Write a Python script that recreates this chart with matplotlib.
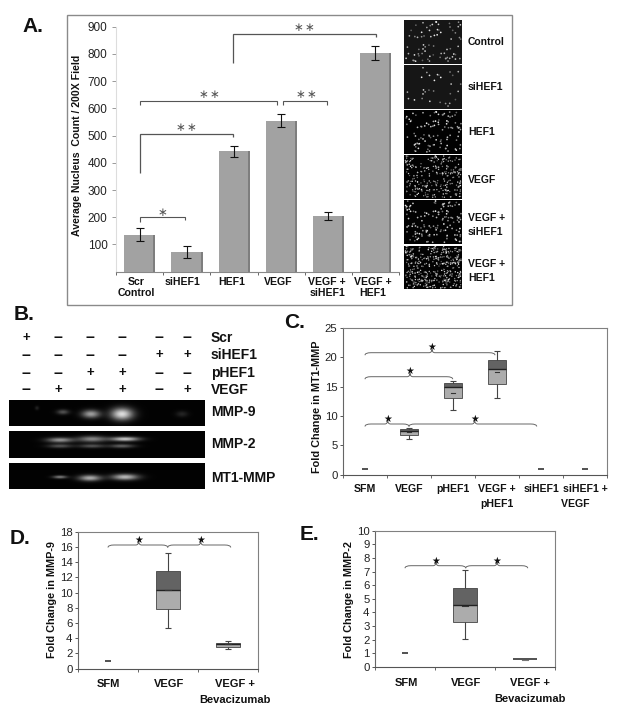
import numpy as np
import matplotlib
matplotlib.use("Agg")
import matplotlib.pyplot as plt
from matplotlib.path import Path
from matplotlib.patches import PathPatch, Rectangle
from matplotlib.transforms import ScaledTranslation

plt.rcParams['font.family'] = ['Liberation Sans', 'DejaVu Sans']

# ---------- data ----------
a_labels = ['Scr\nControl', 'siHEF1', 'HEF1', 'VEGF', 'VEGF +\nsiHEF1', 'VEGF +\nHEF1']
a_values = [135, 72, 443, 555, 205, 803]
a_errors = [24, 22, 20, 25, 16, 25]
a_ticks = [100, 200, 300, 400, 500, 600, 700, 800, 900]

micro_spots = [70, 30, 100, 260, 130, 380]

b_rows = ['Scr', 'siHEF1', 'pHEF1', 'VEGF']
b_signs = ['+-----', '----++', '--++--', '-+-+-+']
b_blots = ['MMP-9', 'MMP-2', 'MT1-MMP']

c_labels = ['SFM', 'VEGF', 'pHEF1', 'VEGF +\npHEF1', 'siHEF1', 'siHEF1 +\nVEGF       ']
c_low = [1, 6, 11, 13, 1, 1]
c_q1 = [1, 6.7, 13, 15.5, 1, 1]
c_med = [1, 7.5, 15, 18, 1, 1]
c_q3 = [1, 7.8, 15.6, 19.6, 1, 1]
c_high = [1, 8, 16, 21, 1, 1]
c_mean = [1, 7.3, 14, 17.5, 1, 1]

d_labels = ['SFM', 'VEGF', 'VEGF +\nBevacizumab']
d_low = [1, 5.4, 2.6]
d_q1 = [1, 7.8, 2.9]
d_med = [1, 10.3, 3.2]
d_q3 = [1, 12.8, 3.4]
d_high = [1, 15.2, 3.7]
d_mean = [1, 10.3, 3.2]

e_labels = ['SFM', 'VEGF', 'VEGF +\nBevacizumab']
e_low = [1, 2.05, 0.6]
e_q1 = [1, 3.3, 0.6]
e_med = [1, 4.55, 0.62]
e_q3 = [1, 5.8, 0.62]
e_high = [1, 7.1, 0.62]
e_mean = [1, 4.5, 0.55]

# ---------- helpers ----------
W, H = 618, 718
fig = plt.figure(figsize=(W / 100, H / 100), dpi=100, facecolor='white')


def axpx(x0, y0, x1, y1):
    return fig.add_axes([x0 / W, 1 - y1 / H, (x1 - x0) / W, (y1 - y0) / H])


ov = fig.add_axes([0, 0, 1, 1], zorder=10)
ov.axis('off')


def shift_labels(ax, offsets):
    for lab, dx in zip(ax.get_xticklabels(), offsets):
        lab.set_transform(lab.get_transform() + ScaledTranslation(dx / 100, 0, fig.dpi_scale_trans))


def cat_axis(ax, labels, pad_px, spacing, size=7.6):
    n = len(labels)
    ax.set_xlim(0, n)
    ax.set_xticks(np.arange(n) + 0.5, labels, fontweight='bold', fontsize=size, linespacing=spacing)
    ax.set_xticks(np.arange(n + 1), minor=True)
    ax.tick_params(axis='x', which='major', length=0, pad=pad_px * 0.72, colors='#111111')
    ax.tick_params(axis='x', which='minor', length=2.5, width=0.7, color='#666666')


def boxes(ax, low, q1, med, q3, high, mean, half, flat_half):
    x = np.arange(len(low)) + 0.5
    ymax = ax.get_ylim()[1]
    for xi, lo, a, m, b, hi, mn in zip(x, low, q1, med, q3, high, mean):
        if hi == lo:
            ax.plot([xi - flat_half, xi + flat_half], [m, m], color='#333333', lw=1.2, solid_capstyle='butt', zorder=3)
            continue
        if b - a < 0.005 * ymax:
            ax.plot([xi - half, xi + half], [m, m], color='#333333', lw=1.2, solid_capstyle='butt', zorder=3)
            ax.plot([xi - 0.05, xi + 0.05], [mn, mn], color='#777777', lw=0.8, zorder=3)
            continue
        ax.errorbar([xi], [m], yerr=[[m - lo], [hi - m]], color='#444444', lw=0.8, capsize=2.5, capthick=0.8, zorder=2)
        ax.bar([xi], [m - a], bottom=[a], width=2 * half, color='#acacac', edgecolor='#444444', lw=0.6, zorder=3)
        ax.bar([xi], [b - m], bottom=[m], width=2 * half, color='#636363', edgecolor='#444444', lw=0.6, zorder=3)
        ax.plot([xi - half, xi + half], [m, m], color='#222222', lw=1.0, solid_capstyle='butt', zorder=4)
        ax.plot([xi - 0.05, xi + 0.05], [mn, mn], color='#333333', lw=0.8, zorder=4)


def style_box_axes(ax):
    ax.spines['top'].set_color('#808080')
    ax.spines['right'].set_color('#808080')
    ax.spines['left'].set_color('#666666')
    ax.spines['bottom'].set_color('#555555')
    for s in ax.spines.values():
        s.set_linewidth(0.8)
    ax.tick_params(axis='y', length=2.5, width=0.7, pad=1.5, labelsize=8.2, color='#555555', labelcolor='#222222')


def bracket(points, color='#555555', lw=0.8):
    xs, ys = zip(*points)
    ov.plot(xs, ys, color=color, lw=lw, solid_joinstyle='miter', solid_capstyle='butt')


def brace(x0, x1, xm, y):
    codes = [Path.MOVETO, Path.CURVE3, Path.CURVE3, Path.LINETO, Path.CURVE3, Path.CURVE3,
             Path.CURVE3, Path.CURVE3, Path.LINETO, Path.CURVE3, Path.CURVE3]
    verts = [(x0, y + 2.5), (x0, y), (x0 + 6, y), (xm - 3, y), (xm, y), (xm, y - 3.5),
             (xm, y), (xm + 3, y), (x1 - 6, y), (x1, y), (x1, y + 2.5)]
    ov.add_patch(PathPatch(Path(verts, codes), fc='none', ec='#666666', lw=0.7))


def star(x, y):
    ov.text(x, y, '\u2605', ha='center', va='center', fontsize=7, color='#111111', family='DejaVu Sans')


def gstar(x, y, s='\u2217\u200a\u2217'):
    ov.text(x, y, s, ha='center', va='center', fontsize=8.5, color='#555555', family='DejaVu Sans')


def t(x, y, s, size=7.5, ha='left', weight='bold', **kw):
    ov.text(x, y, s, fontsize=size, ha=ha, va='center', fontweight=weight, color='#111111', **kw)


# ---------- panel frame A ----------
ov.add_patch(Rectangle((66.5, 14.5), 445.5, 290.5, fc='none', ec='#8a8a8a', lw=1.0))

# ---------- panel A ----------
axA = axpx(116, 26.7, 399, 271.7)
axA.patch.set_alpha(0)
axA.set_ylim(0, 900)
x = np.arange(6) + 0.5
axA.bar(x + 0.025, a_values, width=0.62, color='#7e7e7e', zorder=2)
axA.bar(x - 0.015, a_values, width=0.62, color='#a2a2a2', zorder=3)
axA.errorbar(x, a_values, yerr=a_errors, fmt='none', ecolor='#111111', elinewidth=0.8, capsize=3, capthick=0.8, zorder=4)
axA.set_yticks(a_ticks)
cat_axis(axA, a_labels, 5, 1.2, size=7.6)
shift_labels(axA, [-3, -4, -2, -3, -1, -3])
axA.tick_params(axis='y', length=3, width=0.7, color='#999999', pad=3, labelsize=8.5, labelcolor='#222222')
for s in ['top', 'right']:
    axA.spines[s].set_visible(False)
axA.spines['left'].set_color('#dddddd')
axA.spines['bottom'].set_color('#888888')
axA.spines['bottom'].set_linewidth(0.8)
t(76.5, 145, 'Average Nucleus  Count / 200X Field', size=7.6, ha='center', rotation=90)

bracket([(139.7, 222), (139.7, 217), (185, 217), (185, 220)])
ov.text(162, 212, '\u2217', ha='center', va='center', fontsize=8.5, color='#555555', family='DejaVu Sans')
bracket([(139.7, 172.7), (139.7, 133.5), (233, 133.5), (233, 137)], lw=0.9)
gstar(186, 127.5)
bracket([(139.7, 105), (139.7, 101), (277, 101), (277, 105)])
gstar(209, 95)
bracket([(283, 105), (283, 101), (327, 101), (327, 105)])
gstar(306, 95)
bracket([(233, 63), (233, 33.7), (375.7, 33.7), (375.7, 37)], lw=0.9)
gstar(304, 27.5)

t(22, 27, 'A.', size=15)

# micrographs (decorative speckle texture standing in for the photographs)
tops = [20, 65, 110, 155, 200, 245.5]
for i, (top, n) in enumerate(zip(tops, micro_spots)):
    bg = '#161616' if i < 2 else '#020202'
    ov.add_patch(Rectangle((404, top), 58, 43.7, fc=bg, ec='none', zorder=1))
    idx = np.arange(1, n + 1) + 17 * i
    px = 405 + 56 * ((idx ** 2 * 0.7548777) % 1)
    py = top + 1 + 41.5 * ((idx ** 2 * 0.5698403 + idx * 0.31) % 1)
    shade = 0.35 + 0.6 * ((idx * 0.381966) % 1)
    ov.scatter(px, py, s=1.5 if n < 200 else 1.0, c=np.c_[shade, shade, shade], linewidths=0, zorder=2)
t(468, 42, 'Control', size=7.5)
t(468, 87, 'siHEF1', size=7.5)
t(468, 132, 'HEF1', size=7.5)
t(468, 180, 'VEGF', size=7.5)
t(468, 218, 'VEGF +', size=7.5)
t(468, 232, 'siHEF1', size=7.5)
t(468, 264, 'VEGF +', size=7.5)
t(468, 278, 'HEF1', size=7.5)

# ---------- panel B ----------
t(14, 315, 'B.', size=15)
cols = [26, 58, 90, 122, 159, 187]
rows = [338, 355, 373, 390]
for r, name, signs in zip(rows, b_rows, b_signs):
    for cx, sg in zip(cols, signs):
        ov.text(cx, r, '+' if sg == '+' else '\u2013', ha='center', va='center',
                fontsize=9.5 if sg == '+' else 11.5, fontweight='bold', color='#111111')
    t(211, r, name, size=10)

blot_boxes = [(400, 426), (431, 458), (463, 489)]
blot_bands = [
    [(63, 12, 6, 2.5, .3), (91, 14, 9, 4, .6), (122, 14, 11, 6, .85), (182, 14, 6, 3, .13), (37, 8, 2, 2, .12)],
    [(60, 9, 13, 2.5, .55), (60, 15, 12, 2, .3), (92, 8, 14, 3, .5), (92, 15, 13, 2, .3), (125, 8, 14, 2.2, .75), (122, 15, 12, 2, .35)],
    [(60, 14, 7, 1.6, .45), (90, 15, 11, 3, .65), (125, 14, 13, 3, .7)],
]
for (y0, y1), bands, name in zip(blot_boxes, blot_bands, b_blots):
    xx, yy = np.meshgrid(np.arange(9, 205) + .5, np.arange(0, y1 - y0) + .5)
    img = np.full(xx.shape, 0.01)
    for bx, by, sx, sy, amp in bands:
        img += amp * np.exp(-((xx - bx) / sx) ** 2 - ((yy - by) / sy) ** 2)
    ov.imshow(np.clip(img, 0, 1), cmap='gray', vmin=0, vmax=1, extent=(9, 205, y1, y0), aspect='auto', zorder=1)
    t(211, (y0 + y1) / 2 - (1 if name == 'MMP-9' else 0) + (1.5 if name == 'MT1-MMP' else 0), name, size=10)

# ---------- panel C ----------
axC = axpx(343, 328, 607, 474.7)
axC.set_ylim(0, 25)
axC.set_yticks([0, 5, 10, 15, 20, 25])
cat_axis(axC, c_labels, 9, 1.7)
style_box_axes(axC)
boxes(axC, c_low, c_q1, c_med, c_q3, c_high, c_mean, 0.21, 0.06)
t(317, 407, 'Fold Change in MT1-MMP', size=7.8, ha='center', rotation=90)
t(284, 322, 'C.', size=15)
brace(365, 495, 432, 352.7); star(432, 346.5)
brace(365, 452.7, 410, 376.7); star(410, 371)
brace(365, 409, 387.7, 424); star(387.7, 419)
brace(409, 536.7, 474.7, 424); star(474.7, 419)

# ---------- panel D ----------
axD = axpx(78, 531.7, 258, 668.7)
axD.set_ylim(0, 18)
axD.set_yticks(np.arange(0, 19, 2))
cat_axis(axD, d_labels, 10, 1.8, size=8)
shift_labels(axD, [0, 1, 7])
style_box_axes(axD)
boxes(axD, d_low, d_q1, d_med, d_q3, d_high, d_mean, 0.2, 0.05)
t(52, 600, 'Fold Change in MMP-9', size=7.8, ha='center', rotation=90)
t(10, 538, 'D.', size=15)
brace(108, 167.7, 138.7, 545); star(138.7, 540)
brace(167.7, 230.7, 200.7, 545); star(200.7, 540)

# ---------- panel E ----------
axE = axpx(375, 530.7, 555, 667)
axE.set_ylim(0, 10)
axE.set_yticks(np.arange(0, 11))
cat_axis(axE, e_labels, 11, 1.8, size=8)
shift_labels(axE, [1, 1, 5])
style_box_axes(axE)
boxes(axE, e_low, e_q1, e_med, e_q3, e_high, e_mean, 0.2, 0.05)
t(349, 600, 'Fold Change in MMP-2', size=7.8, ha='center', rotation=90)
t(300, 535, 'E.', size=15)
brace(405, 465.7, 436, 565.7); star(436, 560.7)
brace(465.7, 527.7, 497, 565.7); star(497, 560.7)

ov.set_xlim(0, W)
ov.set_ylim(H, 0)
fig.savefig('out.png', dpi=100, facecolor='white')
